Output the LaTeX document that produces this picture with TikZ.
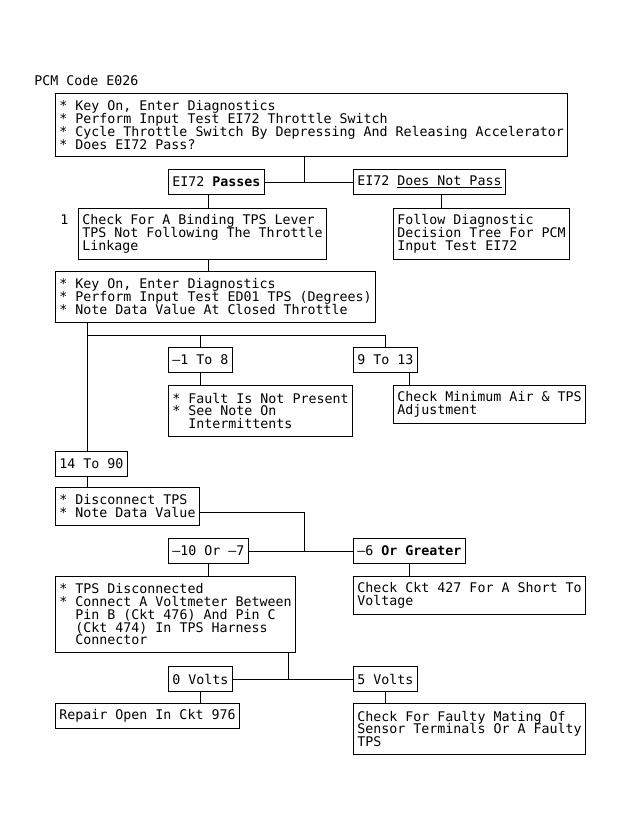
\documentclass[tikz,border=0pt]{standalone}
\usepackage{fontspec}
\setmonofont{DejaVu Sans Mono}
\usepackage{tikz}
\usetikzlibrary{positioning}
\newcommand\tpsfont{\ttfamily\fontsize{13.3}{12.7}\selectfont\lineskiplimit=-6pt}

\begin{document}
\begin{tikzpicture}[x=1pt,y=-1pt,line width=0.8pt,
  box/.style={draw,anchor=north west,align=left,inner xsep=4pt,inner ysep=0pt,
    font=\tpsfont,minimum height={#1*12.7pt+12.5pt}},
  box/.default=1]
\useasboundingbox (0,0) rectangle (622,830);
\node[anchor=west,font=\tpsfont,inner sep=0pt] (title) at (34,81) {PCM Code E026};

\node[box=4] (key) at (55,93) {* Key On, Enter Diagnostics\\* Perform Input Test EI72 Throttle Switch\\* Cycle Throttle Switch By Depressing And Releasing Accelerator\\* Does EI72 Pass?};
\node[box] (pass) at (168,169) {EI72 \textbf{Passes}};
\node[box] (nopass) at (353,169) {EI72 \underline{Does Not Pass}};
\node[anchor=west,font=\tpsfont,inner sep=0pt] (one) at (60,220) {1};
\node[box=3] (bind) at (78,208) {Check For A Binding TPS Lever\\TPS Not Following The Throttle\\Linkage};
\node[box=3] (follow) at (393,208) {Follow Diagnostic\\Decision Tree For PCM\\Input Test EI72};
\node[box=3] (ed01) at (55,271) {* Key On, Enter Diagnostics\\* Perform Input Test ED01 TPS (Degrees)\\* Note Data Value At Closed Throttle};

\node[box] (r1) at (168,347) {\textendash1 To 8};
\node[box] (r9) at (353,347) {9 To 13};
\node[box=3] (fault) at (168,385) {* Fault Is Not Present\\* See Note On\\\hphantom{* }Intermittents};
\node[box=2] (minair) at (393,385) {Check Minimum Air \& TPS\\Adjustment};
\node[box] (r14) at (55,451) {14 To 90};
\node[box=2] (disc) at (55,487) {* Disconnect TPS\\* Note Data Value};

\node[box] (r10) at (168,538) {\textendash10 Or \textendash7};
\node[box] (r6) at (353,538) {\textendash6 \textbf{Or Greater}};
\node[box=5] (tpsdisc) at (55,576) {* TPS Disconnected\\* Connect A Voltmeter Between\\\hphantom{* }Pin B (Ckt 476) And Pin C\\\hphantom{* }(Ckt 474) In TPS Harness\\\hphantom{* }Connector};
\node[box=2] (short) at (353,576) {Check Ckt 427 For A Short To\\Voltage};
\node[box] (v0) at (168,666) {0 Volts};
\node[box] (v5) at (353,666) {5 Volts};
\node[box] (repair) at (55,703) {Repair Open In Ckt 976};
\node[box=3] (faulty) at (353,703) {Check For Faulty Mating Of\\Sensor Terminals Or A Faulty\\TPS};

% junction columns
\coordinate (jKey) at (304,0);
\coordinate (jBind) at (208,0);
\coordinate (jFail) at (441,0);
\coordinate (jMain) at (87,335);
\coordinate (jLow) at (200,335);
\coordinate (jNine) at (385,335);
\coordinate (jAdj) at (409,0);
\coordinate (jDisc) at (304,512);
\coordinate (jVolt) at (288,0);

\draw (key.south -| jKey) -- (pass.east -| jKey);
\draw (pass) -- (nopass);
\draw (pass.south -| jBind) -- (bind.north -| jBind);
\draw (nopass.south -| jFail) -- (follow.north -| jFail);
\draw (bind.south -| jBind) -- (ed01.north -| jBind);

\draw (ed01.south -| jMain) -- (r14.north -| jMain);
\draw (jMain) -- (jNine) -- (r9.north -| jNine);
\draw (jLow) -- (r1.north -| jLow);
\draw (r1.south -| jLow) -- (fault.north -| jLow);
\draw (r9.south -| jAdj) -- (minair.north -| jAdj);
\draw (r14.south -| jMain) -- (disc.north -| jMain);

\draw (disc.east |- jDisc) -- (jDisc) -- (r10.east -| jDisc);
\draw (r10) -- (r6);
\draw (r10.south -| jBind) -- (tpsdisc.north -| jBind);
\draw (r6.south -| jAdj) -- (short.north -| jAdj);

\draw (tpsdisc.south -| jVolt) -- (v0.east -| jVolt);
\draw (v0) -- (v5);
\draw (v0.south -| jLow) -- (repair.north -| jLow);
\draw (v5.south -| jNine) -- (faulty.north -| jNine);
\end{tikzpicture}
\end{document}
